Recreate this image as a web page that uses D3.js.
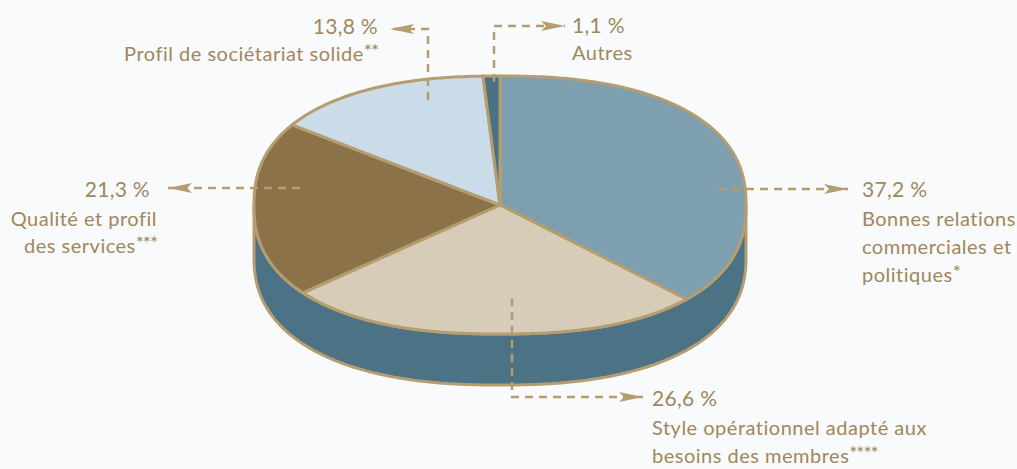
<!DOCTYPE html>
<html>
<head>
<meta charset="utf-8">
<script src="https://cdn.jsdelivr.net/npm/d3@7"></script>
<style>
  html, body { margin: 0; padding: 0; background: #f9fafb; }
  svg { display: block; }
  text { font-family: Lato, "Open Sans", sans-serif; fill: #a0875d; }
</style>
</head>
<body>
<svg id="chart" width="1017" height="469"></svg>
<script>
// Share of responses by reason (percent), clockwise from 12 o'clock
const categories = [
  "Bonnes relations commerciales et politiques",
  "Style opérationnel adapté aux besoins des membres",
  "Qualité et profil des services",
  "Profil de sociétariat solide",
  "Autres"
];
const values = [37.2, 26.6, 21.3, 13.8, 1.1];
const valueLabels = ["37,2 %", "26,6 %", "21,3 %", "13,8 %", "1,1 %"];
// Label text lines; trailing asterisks are set as superscripts
const labelLines = [
  [["Bonnes relations", ""], ["commerciales et", ""], ["politiques", "*"]],
  [["Style opérationnel adapté aux", ""], ["besoins des membres", "****"]],
  [["Qualité et profil", ""], ["des services", "***"]],
  [["Profil de sociétariat solide", "**"]],
  [["Autres", ""]]
];
const sliceColors = ["#7e9fb0", "#d6ccb7", "#8c7249", "#cadcea", "#4b7185"];

// Layout of the disc
const W = 1017, H = 469;
const cx = 500, cy = 205, rx = 246, ry = 129, depth = 51;
const expo = 2.35;             // superellipse exponent for the rounded rim
const rimColor = "#b59d70";
const wallColor = "#4c7285";
const lineColor = "#b59d70";

// Leader routes and label anchors for each slice
const annotations = [
  { path: [[718, 189], [848, 189]], anchor: "start", x: 862, numY: 197, lineX: 862, firstY: 226, step: 28 },
  { path: [[512, 298], [512, 397], [643, 397]], anchor: "start", x: 652, numY: 406, lineX: 652, firstY: 435, step: 28 },
  { path: [[300, 188], [168, 188]], anchor: "end", x: 150, numY: 197, lineX: 157, firstY: 226, step: 27 },
  { path: [[428, 100], [428, 29], [390, 29]], anchor: "end", x: 378, numY: 34, lineX: 378, firstY: 61, step: 28 },
  { path: [[494, 82], [494, 26], [565, 26]], anchor: "start", x: 572, numY: 33, lineX: 572, firstY: 60, step: 28 }
];

const svg = d3.select("#chart");

// Point where the ray at angle t (0 = top, clockwise) meets the rim, optionally dropped by dy
function rim(t, dy = 0) {
  const s = Math.sin(t), c = Math.cos(t);
  const r = 1 / Math.pow(Math.pow(Math.abs(s), expo) + Math.pow(Math.abs(c), expo), 1 / expo);
  return [cx + rx * r * s, cy + dy - ry * r * c];
}
function rimPoints(t0, t1, dy = 0) {
  const n = Math.max(2, Math.ceil(Math.abs(t1 - t0) / 0.01));
  return d3.range(n + 1).map(i => rim(t0 + (t1 - t0) * i / n, dy));
}

const pie = d3.pie().sort(null).value(d => d)(values);
const line = d3.line();

// Side wall (front half of the disc)
const wallPts = rimPoints(Math.PI / 2, 3 * Math.PI / 2)
  .concat(rimPoints(3 * Math.PI / 2, Math.PI / 2, depth));
svg.append("path")
  .attr("d", line(wallPts) + "Z")
  .attr("fill", wallColor)
  .attr("stroke", rimColor)
  .attr("stroke-width", 3)
  .attr("stroke-linejoin", "round");

// Top face slices
svg.append("g").selectAll("path")
  .data(pie)
  .join("path")
  .attr("d", d => line([[cx, cy]].concat(rimPoints(d.startAngle, d.endAngle))) + "Z")
  .attr("fill", (d, i) => sliceColors[i])
  .attr("stroke", rimColor)
  .attr("stroke-width", 3)
  .attr("stroke-linejoin", "round");

// Leader lines with dart arrowheads
const lead = svg.append("g");
annotations.forEach(a => {
  lead.append("path")
    .attr("d", line(a.path))
    .attr("fill", "none")
    .attr("stroke", lineColor)
    .attr("stroke-width", 2.5)
    .attr("stroke-dasharray", "8,6");
  const p1 = a.path[a.path.length - 2], p2 = a.path[a.path.length - 1];
  const ang = Math.atan2(p2[1] - p1[1], p2[0] - p1[0]) * 180 / Math.PI;
  lead.append("path")
    .attr("d", "M0,0L-24,-5L-19,0L-24,5Z")
    .attr("transform", `translate(${p2[0]},${p2[1]}) rotate(${ang})`)
    .attr("fill", lineColor);
});

// Value and category labels
const labels = svg.append("g");
annotations.forEach((a, i) => {
  labels.append("text")
    .attr("x", a.x).attr("y", a.numY)
    .attr("text-anchor", a.anchor)
    .attr("font-size", 21)
    .attr("letter-spacing", 0.3)
    .text(valueLabels[i]);
  labelLines[i].forEach(([txt, sup], j) => {
    const t = labels.append("text")
      .attr("x", a.lineX).attr("y", a.firstY + j * a.step)
      .attr("text-anchor", a.anchor)
      .attr("font-size", 20)
      .attr("letter-spacing", 0.5);
    t.append("tspan").text(txt);
    if (sup) t.append("tspan").attr("font-size", 19).attr("dy", -3).attr("letter-spacing", -1).text(sup);
  });
});
</script>
</body>
</html>
